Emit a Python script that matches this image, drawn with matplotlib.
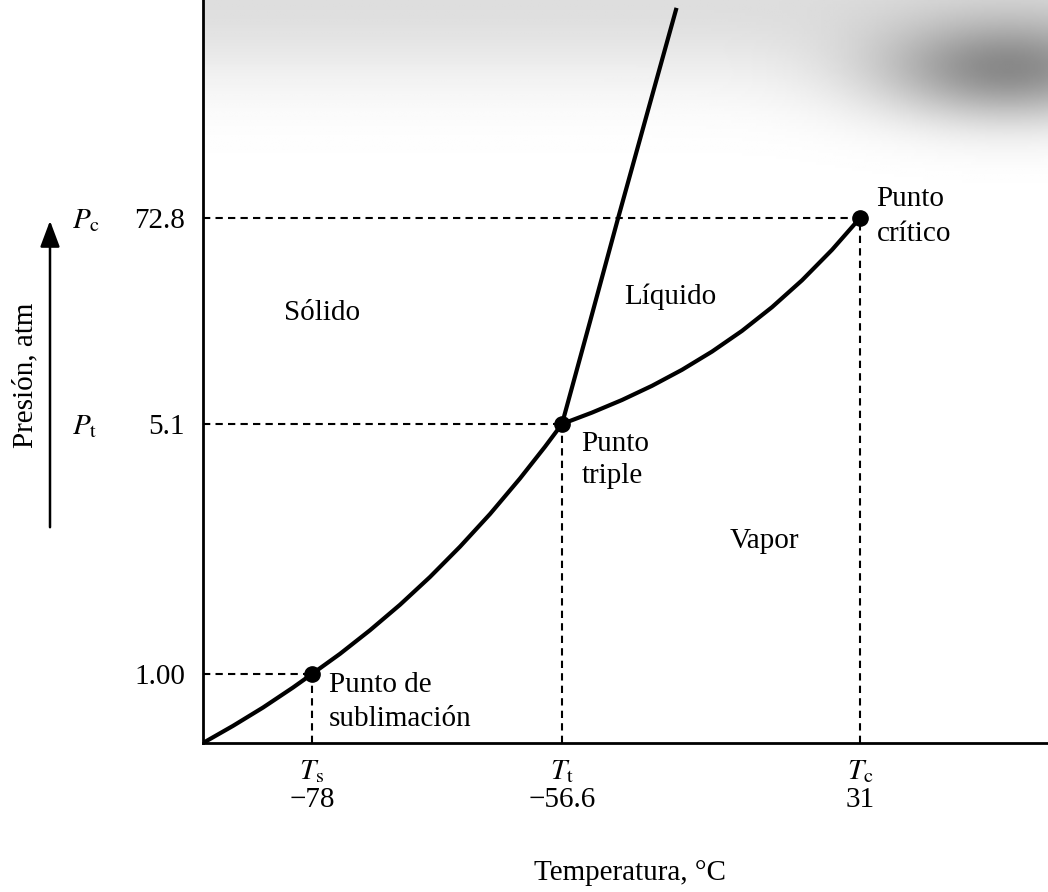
import numpy as np
import matplotlib
matplotlib.use('Agg')
import matplotlib.pyplot as plt

# puntos caracteristicos (CO2)
temp_pts = [-78, -56.6, 31]
pres_pts = [1.00, 5.1, 72.8]
temp_syms = ['$T_\\mathrm{s}$', '$T_\\mathrm{t}$', '$T_\\mathrm{c}$']
temp_labels = ['\u221278', '\u221256.6', '31']
pres_labels = ['1.00', '5.1', '72.8']
pres_syms = ['', '$P_\\mathrm{t}$', '$P_\\mathrm{c}$']

# curvas (escala esquematica)
sub_t = [-90, -86.70, -83.39, -80.09, -78, -75.60, -73.04, -70.47, -67.90,
         -65.33, -62.76, -60.20, -58.06, -56.6]
sub_p = [0, 0.248, 0.514, 0.804, 1.00, 1.331, 1.717, 2.135, 2.591,
         3.088, 3.624, 4.206, 4.726, 5.1]
vap_t = [-56.6, -47.78, -38.96, -30.14, -21.32, -12.51, -3.69, 5.13, 13.95, 22.77, 31]
vap_p = [5.1, 8.85, 12.99, 17.65, 22.91, 28.89, 35.70, 43.49, 52.32, 62.33, 72.8]
fus_t = [-56.6, -48.4, -40.1, -31.3, -23.1]
fus_p = [5.1, 38.6, 72.8, 111.0, 146.5]

# ejes no lineales: tramos lineales entre los puntos caracteristicos
x_anchor = [-90, -78, -56.6, 31, 60]
x_pos = [0, 109 / 845, 359 / 845, 657 / 845, 1]
y_anchor = [0, 1.00, 5.1, 72.8, 150]
y_pos = [0, 69 / 743, 319 / 743, 525 / 743, 1]


def fx(v):
    return np.interp(v, x_anchor, x_pos)


def ix(v):
    return np.interp(v, x_pos, x_anchor)


def fy(v):
    return np.interp(v, y_anchor, y_pos)


def iy(v):
    return np.interp(v, y_pos, y_anchor)


plt.rcParams['font.family'] = ['Liberation Serif', 'DejaVu Serif']
plt.rcParams['mathtext.fontset'] = 'stix'
plt.rcParams['font.size'] = 21

fig = plt.figure(figsize=(10.48, 8.92), dpi=100)
ax = fig.add_axes([203 / 1048, 149 / 892, 845 / 1048, 743 / 892])
ax.set_xscale('function', functions=(fx, ix))
ax.set_yscale('function', functions=(fy, iy))

# sombreado gris del papel escaneado (arriba)
gx, gy = np.meshgrid(np.linspace(0, 1, 300), np.linspace(0, 1, 250))
px = 203 + gx * 845
dtop = (1 - gy) * 743
shade = 0.13 * np.exp(-(dtop / 80) ** 2) + 0.40 * np.exp(-((px - 1010) / 130) ** 2 - ((dtop - 70) / 50) ** 2)
ax.imshow(1 - shade, cmap='gray', vmin=0, vmax=1, extent=(0, 1, 0, 1), origin='lower',
          transform=ax.transAxes, aspect='auto', zorder=0, interpolation='bilinear')

ax.set_xlim(x_anchor[0], x_anchor[-1])
ax.set_ylim(y_anchor[0], y_anchor[-1])

# lineas guia
x0 = x_anchor[0]
y0 = y_anchor[0]
for t, p in zip(temp_pts, pres_pts):
    ax.plot([x0, t], [p, p], color='black', lw=1.5, dashes=(3.5, 2.5), zorder=2)
    ax.plot([t, t], [y0, p], color='black', lw=1.5, dashes=(3.5, 2.5), zorder=2)

# curvas de equilibrio
ax.plot(sub_t, sub_p, color='black', lw=3, solid_joinstyle='round', zorder=3)
ax.plot(vap_t, vap_p, color='black', lw=3, solid_joinstyle='round', zorder=3)
ax.plot(fus_t, fus_p, color='black', lw=3, solid_joinstyle='round', zorder=3)
ax.plot(temp_pts, pres_pts, 'o', color='black', ms=11, zorder=4)

# ejes
for s in ['top', 'right']:
    ax.spines[s].set_visible(False)
for s in ['left', 'bottom']:
    ax.spines[s].set_linewidth(2.0)
ax.set_xticks(temp_pts, labels=[f'{s}\n{l}' for s, l in zip(temp_syms, temp_labels)])
ax.set_yticks(pres_pts, labels=pres_labels)
ax.tick_params(length=0)
ax.tick_params(axis='x', pad=11)
ax.tick_params(axis='y', pad=13)
for lab in ax.get_xticklabels():
    lab.set_linespacing(1.08)

for p, s in zip(pres_pts, pres_syms):
    if s:
        ax.annotate(s, xy=(0, p), xycoords=ax.get_yaxis_transform(),
                    xytext=(-94, -2), textcoords='offset points', ha='left', va='center')

# regiones
ax.text(-77.1, 41.6, 'Sólido', ha='center', va='center')
ax.text(-24.9, 46.8, 'Líquido', ha='center', va='center')
ax.text(2.8, 3.18, 'Vapor', ha='center', va='center')

ax.annotate('Punto\ntriple', xy=(temp_pts[1], pres_pts[1]), xytext=(14, -26),
            textcoords='offset points', ha='left', va='center', linespacing=1.3)
ax.annotate('Punto de\nsublimación', xy=(temp_pts[0], pres_pts[0]), xytext=(12, -20),
            textcoords='offset points', ha='left', va='center', linespacing=1.4)
ax.annotate('Punto\ncrítico', xy=(temp_pts[2], pres_pts[2]), xytext=(12, 1),
            textcoords='offset points', ha='left', va='center', linespacing=1.45)

ax.set_xlabel('Temperatura, °C')
ax.xaxis.set_label_coords(0.505, -0.157)

fig.text(25 / 1048, 1 - 375 / 892, 'Presión, atm', rotation=90, ha='center', va='center')
fig.add_artist(plt.matplotlib.patches.FancyArrowPatch(
    (50 / 1048, 1 - 530 / 892), (50 / 1048, 1 - 218 / 892), transform=fig.transFigure,
    arrowstyle='-|>,head_length=0.8,head_width=0.3', mutation_scale=20, lw=1.8, color='black'))

fig.savefig('out.png', dpi=100)
